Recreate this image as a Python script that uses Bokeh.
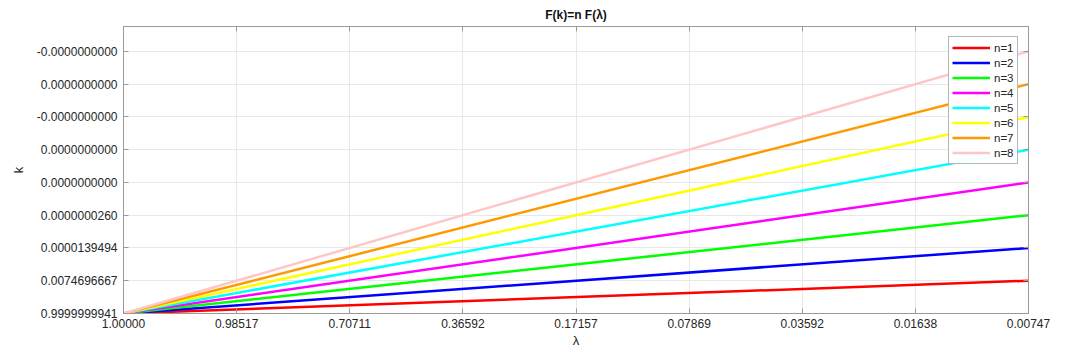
from bokeh.plotting import figure
from bokeh.models import FixedTicker, LinearAxis, Range1d, Legend, LegendItem, CustomJSTickFormatter
from bokeh.embed import file_html
from bokeh.resources import INLINE

# tick labels (lambda on x, k on y), evenly spaced in transformed coordinates
lam_labels = ["1.00000", "0.98517", "0.70711", "0.36592", "0.17157",
              "0.07869", "0.03592", "0.01638", "0.00747"]
k_labels = ["0.9999999941", "0.0074696667", "0.0000139494", "0.0000000260",
            "0.0000000000", "0.0000000000", "-0.0000000000", "0.0000000000",
            "-0.0000000000"]

# series: n values, colours, line endpoints in transformed units
n_values = [1, 2, 3, 4, 5, 6, 7, 8]
colors = ["#ff0000", "#0000ff", "#00ff00", "#ff00ff", "#00ffff",
          "#ffff00", "#ff9900", "#ffc6c6"]
x_points = [0, 8]
k_start = [0, 0, 0, 0, 0, 0, 0, 0]
k_end = [1, 2, 3, 4, 5, 6, 7, 8]

FONT = "Liberation Sans"
AX = "#9a9a9a"
TXT = "#262626"

p = figure(width=1080, height=352, output_backend="svg", toolbar_location=None,
           x_range=Range1d(0, 8), y_range=Range1d(0, 8.76),
           min_border_left=123, min_border_right=52, min_border_top=26,
           min_border_bottom=39, background_fill_color="white",
           border_fill_color="white")
p.outline_line_color = AX

p.title.text = "F(k)=n F(\u03bb)"
p.title.align = "center"
p.title.text_font = FONT
p.title.text_font_size = "12px"
p.title.text_font_style = "bold"
p.title.text_color = "#111111"

xt = FixedTicker(ticks=list(range(len(lam_labels))))
yt = FixedTicker(ticks=list(range(len(k_labels))))

for ax in p.xaxis + p.yaxis:
    ax.axis_line_color = AX
    ax.major_tick_line_color = AX
    ax.major_tick_in = 5
    ax.major_tick_out = 0
    ax.minor_tick_line_color = None
    ax.major_label_text_font = FONT
    ax.major_label_text_font_size = "12px"
    ax.major_label_text_color = TXT
    ax.axis_label_text_font = FONT
    ax.axis_label_text_font_size = "13px"
    ax.axis_label_text_font_style = "normal"
    ax.axis_label_text_color = TXT

p.xaxis.ticker = xt
p.yaxis.ticker = yt
p.xaxis.major_label_overrides = {i: s for i, s in enumerate(lam_labels)}
p.yaxis.major_label_overrides = {i: s for i, s in enumerate(k_labels)}
p.xaxis.axis_label = "\u03bb"
p.yaxis.axis_label = "k"
p.xaxis.major_label_standoff = 5
p.yaxis.major_label_standoff = 6
p.xaxis.axis_label_standoff = 2
p.yaxis.axis_label_standoff = 8

# mirrored tick marks on top and right (no labels)
for side, tk in (("above", xt), ("right", yt)):
    a = LinearAxis(ticker=tk, axis_line_color=AX, major_tick_line_color=AX,
                   major_tick_in=5, major_tick_out=0, minor_tick_line_color=None,
                   formatter=CustomJSTickFormatter(code="return ''"),
                   major_label_standoff=0)
    p.add_layout(a, side)

p.xgrid.ticker = xt
p.ygrid.ticker = yt
p.xgrid.grid_line_color = "#e8e8e8"
p.ygrid.grid_line_color = "#e8e8e8"

items = []
for n, c, k0, k1 in zip(n_values, colors, k_start, k_end):
    r = p.line(x_points, [k0, k1], line_color=c, line_width=2.5)
    items.append(LegendItem(label=f"n={n}", renderers=[r]))

leg = Legend(items=items, location="top_right", margin=10, padding=3,
             spacing=0, glyph_width=38, glyph_height=15, label_height=15,
             label_standoff=4, label_text_font=FONT, label_text_font_size="11.5px",
             label_text_color=TXT, border_line_color="#6e6e6e",
             border_line_width=1, background_fill_color="white")
p.add_layout(leg, "center")

open("out.html", "w").write(file_html(p, INLINE))
